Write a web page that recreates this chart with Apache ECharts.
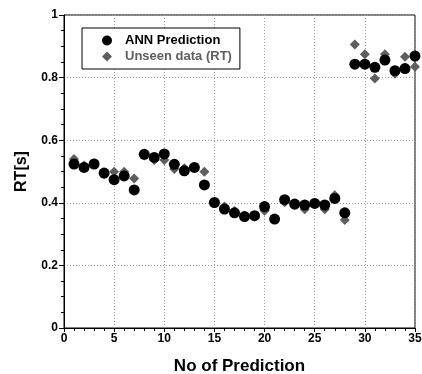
<!DOCTYPE html>
<html>
<head>
<meta charset="utf-8">
<script src="https://cdn.jsdelivr.net/npm/echarts@6/dist/echarts.min.js"></script>
<style>
  html, body { margin: 0; padding: 0; background: #fff; }
  #chart { width: 422px; height: 374px; }
</style>
</head>
<body>
<div id="chart"></div>
<script>
// prediction index 1..35
const predIdx = Array.from({ length: 35 }, (_, i) => i + 1)

const annPrediction = [
  0.524, 0.513, 0.524, 0.495, 0.474, 0.486, 0.441, 0.555, 0.545, 0.556,
  0.523, 0.502, 0.513, 0.457, 0.401, 0.380, 0.368, 0.356, 0.359, 0.388,
  0.348, 0.410, 0.396, 0.393, 0.398, 0.393, 0.414, 0.368, 0.843, 0.843,
  0.833, 0.856, 0.822, 0.829, 0.869
]

const unseenData = [
  0.540, 0.519, 0.526, 0.491, 0.499, 0.499, 0.478, 0.551, 0.537, 0.537,
  0.508, 0.510, 0.513, 0.499, 0.400, 0.388, 0.374, 0.356, 0.356, 0.375,
  0.348, 0.402, 0.393, 0.379, 0.398, 0.379, 0.424, 0.345, 0.906, 0.875,
  0.797, 0.875, 0.812, 0.867, 0.835
]

const xTicks = [0, 5, 10, 15, 20, 25, 30, 35]
const yTicks = [0, 0.2, 0.4, 0.6, 0.8, 1]

const chart = echarts.init(document.getElementById('chart'))
const font = 'Liberation Sans, Arial, sans-serif'
const grey = '#5e5e5e'

const gridLine = { show: true, lineStyle: { color: '#9a9a9a', type: [1, 2], width: 1 } }

const option = {
  animation: false,
  grid: {
    left: 64, right: 7, top: 15, bottom: 46,
    outerBoundsMode: 'none',
    show: true, borderColor: '#000', borderWidth: 1
  },
  legend: {
    left: 82, top: 28,
    orient: 'vertical',
    padding: [6, 8, 6, 20],
    itemGap: 3,
    itemWidth: 10, itemHeight: 10,
    borderColor: '#000', borderWidth: 1,
    backgroundColor: '#fff',
    textStyle: { fontFamily: font, fontWeight: 'bold', fontSize: 13, padding: [0, 0, 0, 8] },
    data: [
      { name: 'ANN Prediction', icon: 'circle', itemStyle: { color: '#000', opacity: 1 }, textStyle: { color: '#000' } },
      { name: 'Unseen data (RT)', icon: 'diamond', itemStyle: { color: grey, opacity: 1 }, textStyle: { color: grey } }
    ]
  },
  xAxis: {
    type: 'value', min: 0, max: 35, interval: 5,
    name: 'No of Prediction', nameLocation: 'middle', nameGap: 30,
    nameTextStyle: { fontFamily: font, fontWeight: 'bold', fontSize: 17, color: '#000' },
    axisLine: { show: true, onZero: false, lineStyle: { color: '#000' } },
    axisTick: { show: true, inside: false, length: 4, lineStyle: { color: '#000' } },
    minorTick: { show: true, splitNumber: 5, length: 3, lineStyle: { color: '#000' } },
    axisLabel: {
      fontFamily: font, fontWeight: 'bold', fontSize: 12, color: '#000', margin: 5,
      formatter: v => xTicks.includes(v) ? String(v) : ''
    },
    splitLine: gridLine
  },
  yAxis: {
    type: 'value', min: 0, max: 1, interval: 0.2,
    name: 'RT[s]', nameLocation: 'middle', nameGap: 34,
    nameTextStyle: { fontFamily: font, fontWeight: 'bold', fontSize: 16, color: '#000' },
    axisLine: { show: true, onZero: false, lineStyle: { color: '#000' } },
    axisTick: { show: true, inside: false, length: 5, lineStyle: { color: '#000' } },
    minorTick: { show: true, splitNumber: 4, length: 3, lineStyle: { color: '#000' } },
    axisLabel: {
      fontFamily: font, fontWeight: 'bold', fontSize: 12, color: '#000', margin: 6,
      formatter: v => {
        const t = yTicks.find(y => Math.abs(y - v) < 1e-6)
        return t === undefined ? '' : String(t)
      }
    },
    splitLine: gridLine
  },
  series: [
    {
      name: 'ANN Prediction', type: 'scatter', z: 3,
      symbol: 'circle', symbolSize: 11,
      itemStyle: { color: '#000', opacity: 1 },
      data: predIdx.map((x, i) => [x, annPrediction[i]])
    },
    {
      name: 'Unseen data (RT)', type: 'scatter', z: 2,
      symbol: 'diamond', symbolSize: 10,
      itemStyle: { color: grey, opacity: 1 },
      data: predIdx.map((x, i) => [x, unseenData[i]])
    }
  ]
}

chart.setOption(option)
</script>
</body>
</html>
